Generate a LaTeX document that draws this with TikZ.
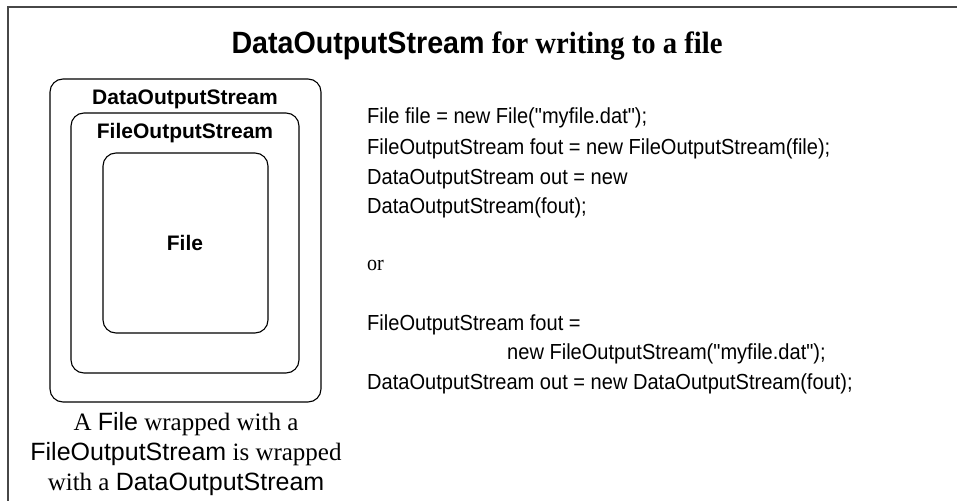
\documentclass[tikz,border=0pt]{standalone}
\usepackage{fontspec}
\setmainfont{Liberation Serif}
\setsansfont{Liberation Sans}
\newfontfamily\codefont{Liberation Sans}[Ligatures=TeXOff,FakeStretch=0.92]
\newfontfamily\coderm{Liberation Serif}[FakeStretch=0.92]
\newfontfamily\titlesf{Liberation Sans}[FakeStretch=0.93]
\newfontfamily\titlerm{Liberation Serif}[FakeStretch=0.93]
\begin{document}
\begin{tikzpicture}[x=1pt,y=-1pt,
  frame/.style={draw=black!72,line width=2.5pt},
  wrapbox/.style={draw=black,line width=1.1pt,rounded corners=13pt},
  boxlabel/.style={anchor=base,font=\sffamily\bfseries\fontsize{21}{24}\selectfont,inner sep=0pt},
  codeline/.style={anchor=base west,inner sep=0pt,font=\codefont\fontsize{21.8}{24}\selectfont},
  capline/.style={anchor=base,inner sep=0pt,font=\rmfamily\fontsize{25}{28}\selectfont}]
\useasboundingbox (0,0) rectangle (957,500);
\fill[white] (0,0) rectangle (957,500);
\draw[frame] (8,505) -- (8,7) -- (965,7);
\node[anchor=base,inner sep=0pt,font=\bfseries\fontsize{30.8}{32}\selectfont] (title) at (477,54)
  {\titlesf DataOutputStream\titlerm{} for writing to a file};
\draw[wrapbox] (50,79) rectangle (321,402);
\draw[wrapbox] (71,113) rectangle (299,373);
\draw[wrapbox] (103,153) rectangle (268,333);
\node[boxlabel] (ldos) at (185,104) {DataOutputStream};
\node[boxlabel] (lfos) at (185,139) {FileOutputStream};
\node[boxlabel] (lfile) at (185,250) {File};
\node[codeline] (c1) at (367,124) {File file = new File("myfile.dat");};
\node[codeline] (c2) at (367,154) {FileOutputStream fout = new FileOutputStream(file);};
\node[codeline] (c3) at (367,184) {DataOutputStream out = new};
\node[codeline] (c4) at (367,213) {DataOutputStream(fout);};
\node[codeline,font=\coderm\fontsize{21.8}{24}\selectfont] (c5) at (367,270) {or};
\node[codeline] (c6) at (367,330) {FileOutputStream fout =};
\node[codeline] (c7) at (507,359) {new FileOutputStream("myfile.dat");};
\node[codeline] (c8) at (367,389) {DataOutputStream out = new DataOutputStream(fout);};
\node[capline] (cap1) at (186,430) {A {\sffamily File} wrapped with a};
\node[capline] (cap2) at (186,460) {{\sffamily FileOutputStream} is wrapped};
\node[capline] (cap3) at (186,490) {with a {\sffamily DataOutputStream}};
\end{tikzpicture}
\end{document}
